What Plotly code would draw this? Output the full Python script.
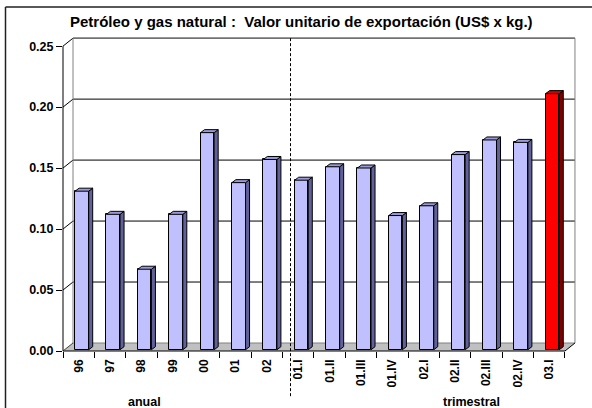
import plotly.graph_objects as go

# Export unit value of oil and natural gas (US$ per kg)
categories = ["96", "97", "98", "99", "00", "01", "02",
              "01.I", "01.II", "01.III", "01.IV",
              "02.I", "02.II", "02.III", "02.IV", "03.I"]
values = [0.130, 0.111, 0.066, 0.111, 0.178, 0.137, 0.156,
          0.139, 0.150, 0.149, 0.110,
          0.118, 0.160, 0.172, 0.170, 0.210]
highlight = [False] * 15 + [True]
y_ticks = [0.00, 0.05, 0.10, 0.15, 0.20, 0.25]
y_ticktext = ["0.00", "0.05", "0.10", "0.15", "0.20", "0.25"]
group_labels = ["anual", "trimestral"]
title = "Petróleo y gas natural :  Valor unitario de exportación (US$ x kg.)"

FONT = "Liberation Sans, Arial, sans-serif"

# plot-area geometry in pixels
L, R, T, B = 63, 575, 37, 351
W, H = R - L, B - T
XR = [0, 16.32]
YR = [0, 0.2575]
PXX = W / (XR[1] - XR[0])   # pixels per category unit
PXY = H / (YR[1] - YR[0])   # pixels per value unit

# pseudo-3D offsets (floor/wall depth, bar placement)
OX, OY = 10 / PXX, 8 / PXY          # back wall offset
FX, FY = 3.2 / PXX, 1.3 / PXY       # bar front face offset
DX, DY = 4.0 / PXX, 3.0 / PXY       # bar depth
HW = 6.8 / PXX                      # half width of bar face

n = len(categories)


def px(x):
    return (x - XR[0]) / (XR[1] - XR[0])


def py(y):
    return (y - YR[0]) / (YR[1] - YR[0])


def ppx(p):
    return (p - L) / W


def ppy(p):
    return (B - p) / H


shapes = []


def line(x0, y0, x1, y1, color="black", width=1, dash="solid", layer="below"):
    shapes.append(dict(type="line", xref="paper", yref="paper",
                       x0=x0, y0=y0, x1=x1, y1=y1, layer=layer,
                       line=dict(color=color, width=width, dash=dash)))


# floor
shapes.append(dict(type="path", xref="paper", yref="paper", layer="below",
                   path=f"M{px(0)},{py(0)} L{px(n)},{py(0)} L{px(n + OX)},{py(OY)} "
                        f"L{px(OX)},{py(OY)} Z",
                   fillcolor="#c0c0c0", line=dict(width=0)))
line(px(OX), py(OY), px(n + OX), py(OY), color="#808080")

# back wall with gridlines, left wall edges
for v in y_ticks[1:]:
    line(px(OX), py(v + OY), px(n + OX), py(v + OY), color="black")
    line(px(0), py(v), px(OX), py(v + OY), color="black")
line(px(OX), py(y_ticks[-1] + OY), px(n + OX), py(y_ticks[-1] + OY), color="#808080")
line(px(OX), py(OY), px(OX), py(y_ticks[-1] + OY), color="#808080")
line(px(n + OX), py(OY), px(n + OX), py(y_ticks[-1] + OY), color="#808080")

# front axes
line(px(0), py(0), px(n), py(0), color="black")
line(px(0), py(0), px(OX), py(OY), color="#404040")
line(px(n), py(0), px(n + OX), py(OY), color="black")
line(px(0), py(0), px(0), py(y_ticks[-1]), color="black")

# divider between annual and quarterly data
line(ppx(290.5), py(y_ticks[-1] + OY), ppx(290.5), ppy(397),
     color="black", width=1, dash="3px,2px", layer="above")

# outer frame
line(ppx(5.5), ppy(7), ppx(5.5), ppy(410), color="#202020", width=1.5, layer="above")
line(ppx(5.5), ppy(7), ppx(594), ppy(7), color="#202020", width=1.5, layer="above")

fig = go.Figure()

centers = [i + 0.5 for i in range(n)]


def add_bars(idx, front, side, top):
    xs = [centers[i] + FX for i in idx]
    ys = [values[i] for i in idx]
    fig.add_trace(go.Bar(x=xs, y=ys, base=[FY] * len(idx), width=2 * HW,
                         marker=dict(color=front, line=dict(color="black", width=1)),
                         hoverinfo="skip", showlegend=False))
    sx, sy, tx, ty = [], [], [], []
    for i in idx:
        xl = centers[i] + FX - HW
        xr = centers[i] + FX + HW
        yb = FY
        yt = FY + values[i]
        sx += [xr, xr + DX, xr + DX, xr, xr, None]
        sy += [yb, yb + DY, yt + DY, yt, yb, None]
        tx += [xl, xl + DX, xr + DX, xr, xl, None]
        ty += [yt, yt + DY, yt + DY, yt, yt, None]
    fig.add_trace(go.Scatter(x=sx, y=sy, mode="lines", fill="toself", fillcolor=side,
                             line=dict(color="black", width=1),
                             hoverinfo="skip", showlegend=False))
    fig.add_trace(go.Scatter(x=tx, y=ty, mode="lines", fill="toself", fillcolor=top,
                             line=dict(color="black", width=1),
                             hoverinfo="skip", showlegend=False))


add_bars([i for i in range(n) if not highlight[i]], "#c0c0ff", "#60609a", "#9a9ad8")
add_bars([i for i in range(n) if highlight[i]], "#ff0000", "#800000", "#d00000")

annotations = [
    dict(text=f"<b>{title}</b>", xref="paper", yref="paper",
         x=ppx(301), y=ppy(21), showarrow=False, xanchor="center", yanchor="middle",
         font=dict(family=FONT, size=15, color="black")),
    dict(text=f"<b>{group_labels[0]}</b>", xref="paper", yref="paper",
         x=ppx(144), y=ppy(402), showarrow=False, xanchor="center", yanchor="middle",
         font=dict(family=FONT, size=12.5, color="black")),
    dict(text=f"<b>{group_labels[1]}</b>", xref="paper", yref="paper",
         x=ppx(471), y=ppy(402), showarrow=False, xanchor="center", yanchor="middle",
         font=dict(family=FONT, size=12.5, color="black")),
]

fig.update_layout(
    width=592, height=408,
    margin=dict(l=L, r=592 - R, t=T, b=408 - B, pad=0),
    paper_bgcolor="white", plot_bgcolor="rgba(0,0,0,0)",
    shapes=shapes, annotations=annotations, bargap=0,
    xaxis=dict(range=XR, showgrid=False, zeroline=False, showline=False,
               tickmode="array", tickvals=centers, ticktext=categories,
               tickangle=-90, ticks="", ticklabelstandoff=5,
               tickfont=dict(family=FONT, size=12, color="black", weight="bold"),
               minor=dict(tickvals=list(range(n + 1)), ticks="outside", ticklen=6,
                          tickcolor="black", tickwidth=1, showgrid=False),
               fixedrange=True),
    yaxis=dict(range=YR, showgrid=False, zeroline=False, showline=False,
               tickmode="array", tickvals=y_ticks, ticktext=y_ticktext,
               ticks="outside", ticklen=6, tickcolor="black",
               tickfont=dict(family=FONT, size=12.5, color="black", weight="bold"),
               fixedrange=True),
)

fig.write_html("out.html")
